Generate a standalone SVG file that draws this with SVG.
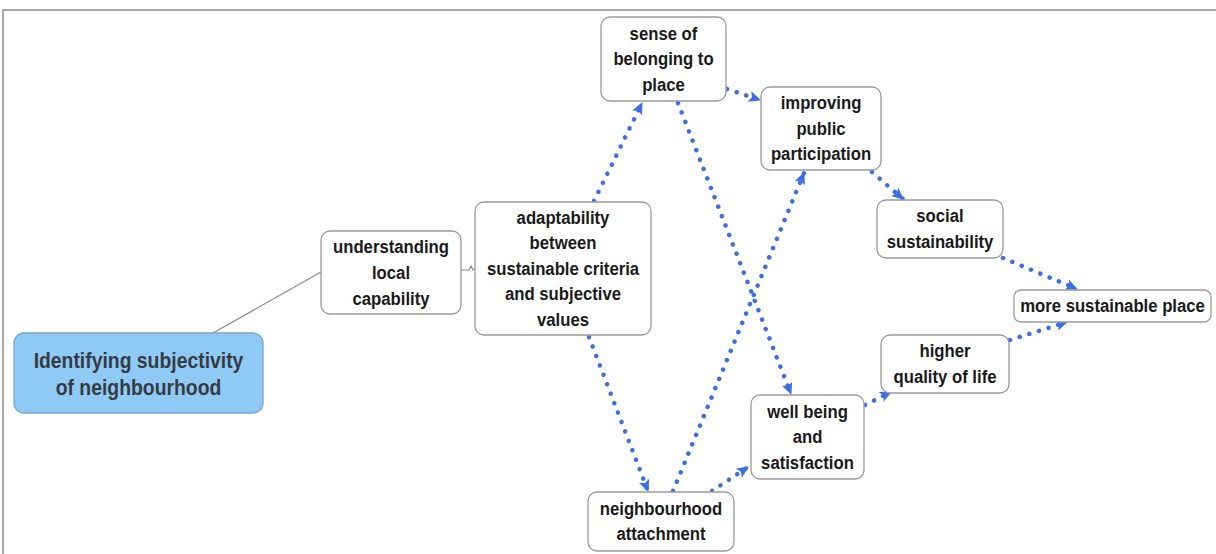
<svg xmlns="http://www.w3.org/2000/svg" width="1216" height="554" viewBox="0 0 1216 554">
<defs>
<style>
.node rect{fill:#fff;stroke:#9a9a9a;stroke-width:1.3}
.node text{font-family:"Liberation Sans",Arial,sans-serif;font-weight:bold;font-size:19px;fill:#1a1a1a;text-anchor:middle}
#n-identify rect{fill:#8fcaf6;stroke:#7aa6c8}
#n-identify text{font-size:22px;fill:#353b42}
.dot{fill:none;stroke:#3c6fe6;stroke-width:4.5;stroke-linecap:round;stroke-dasharray:0.1 10;marker-end:url(#ah)}
.plain{fill:none;stroke:#8a8a8a;stroke-width:1.2}
</style>
<marker id="ah" viewBox="0 0 12 11" refX="11" refY="5.5" markerWidth="12" markerHeight="11" markerUnits="userSpaceOnUse" orient="auto">
<path d="M0,0 L12,5.5 L0,11 L2.5,5.5 Z" fill="#3c6fe6"/>
</marker>
</defs>
<rect x="0" y="0" width="1216" height="554" fill="#fff"/>
<path d="M3,554 V10 H1216" fill="none" stroke="#8c8c8c" stroke-width="1.5"/>

<g id="connectors">
<path class="plain" d="M213,333 L321,272"/>
<path class="plain" d="M461,270 L469,270 L471,266 L473,270 L475,269"/>
<path class="dot" d="M594,201 L642,103"/>
<path class="dot" d="M589,337 L648,491"/>
<path class="dot" d="M678,103 L791,394"/>
<path class="dot" d="M673,491 L804,173"/>
<path class="dot" d="M727,89 L760,100"/>
<path class="dot" d="M872,172 L903,199"/>
<path class="dot" d="M1003,258 L1077,289"/>
<path class="dot" d="M712,491 L748,467"/>
<path class="dot" d="M865,405 L891,392"/>
<path class="dot" d="M1010,340 L1067,322"/>
</g>

<g id="n-identify" class="node">
<rect x="14" y="333" width="249" height="80" rx="10"/>
<g transform="translate(138.5,0) scale(0.88,1)">
<text x="0" y="368">Identifying subjectivity</text>
<text x="0" y="395">of neighbourhood</text>
</g>
</g>
<g id="n-understanding" class="node">
<rect x="321" y="231" width="140" height="83" rx="9"/>
<g transform="translate(391,0) scale(0.88,1)">
<text x="0" y="253.5">understanding</text>
<text x="0" y="279">local</text>
<text x="0" y="304.5">capability</text>
</g>
</g>
<g id="n-adaptability" class="node">
<rect x="475" y="202" width="176" height="133" rx="9"/>
<g transform="translate(563,0) scale(0.88,1)">
<text x="0" y="224">adaptability</text>
<text x="0" y="249.5">between</text>
<text x="0" y="275">sustainable criteria</text>
<text x="0" y="300.5">and subjective</text>
<text x="0" y="326">values</text>
</g>
</g>
<g id="n-sense" class="node">
<rect x="601" y="17" width="125" height="84" rx="9"/>
<g transform="translate(663.5,0) scale(0.88,1)">
<text x="0" y="40">sense of</text>
<text x="0" y="65.5">belonging to</text>
<text x="0" y="91">place</text>
</g>
</g>
<g id="n-improving" class="node">
<rect x="761" y="87" width="120" height="83" rx="9"/>
<g transform="translate(821,0) scale(0.88,1)">
<text x="0" y="109.5">improving</text>
<text x="0" y="135">public</text>
<text x="0" y="160.5">participation</text>
</g>
</g>
<g id="n-social" class="node">
<rect x="877" y="200" width="126" height="58" rx="9"/>
<g transform="translate(940,0) scale(0.88,1)">
<text x="0" y="222.5">social</text>
<text x="0" y="248">sustainability</text>
</g>
</g>
<g id="n-more" class="node">
<rect x="1014" y="290" width="197" height="32" rx="7"/>
<g transform="translate(1112.5,0) scale(0.88,1)">
<text x="0" y="312.5">more sustainable place</text>
</g>
</g>
<g id="n-higher" class="node">
<rect x="881" y="335" width="128" height="58" rx="9"/>
<g transform="translate(945,0) scale(0.88,1)">
<text x="0" y="357.5">higher</text>
<text x="0" y="383">quality of life</text>
</g>
</g>
<g id="n-wellbeing" class="node">
<rect x="751" y="395" width="113" height="84" rx="9"/>
<g transform="translate(807.5,0) scale(0.88,1)">
<text x="0" y="418">well being</text>
<text x="0" y="443.5">and</text>
<text x="0" y="469">satisfaction</text>
</g>
</g>
<g id="n-neighbourhood" class="node">
<rect x="588" y="492" width="146" height="59" rx="9"/>
<g transform="translate(661,0) scale(0.88,1)">
<text x="0" y="515">neighbourhood</text>
<text x="0" y="540.5">attachment</text>
</g>
</g>
</svg>
